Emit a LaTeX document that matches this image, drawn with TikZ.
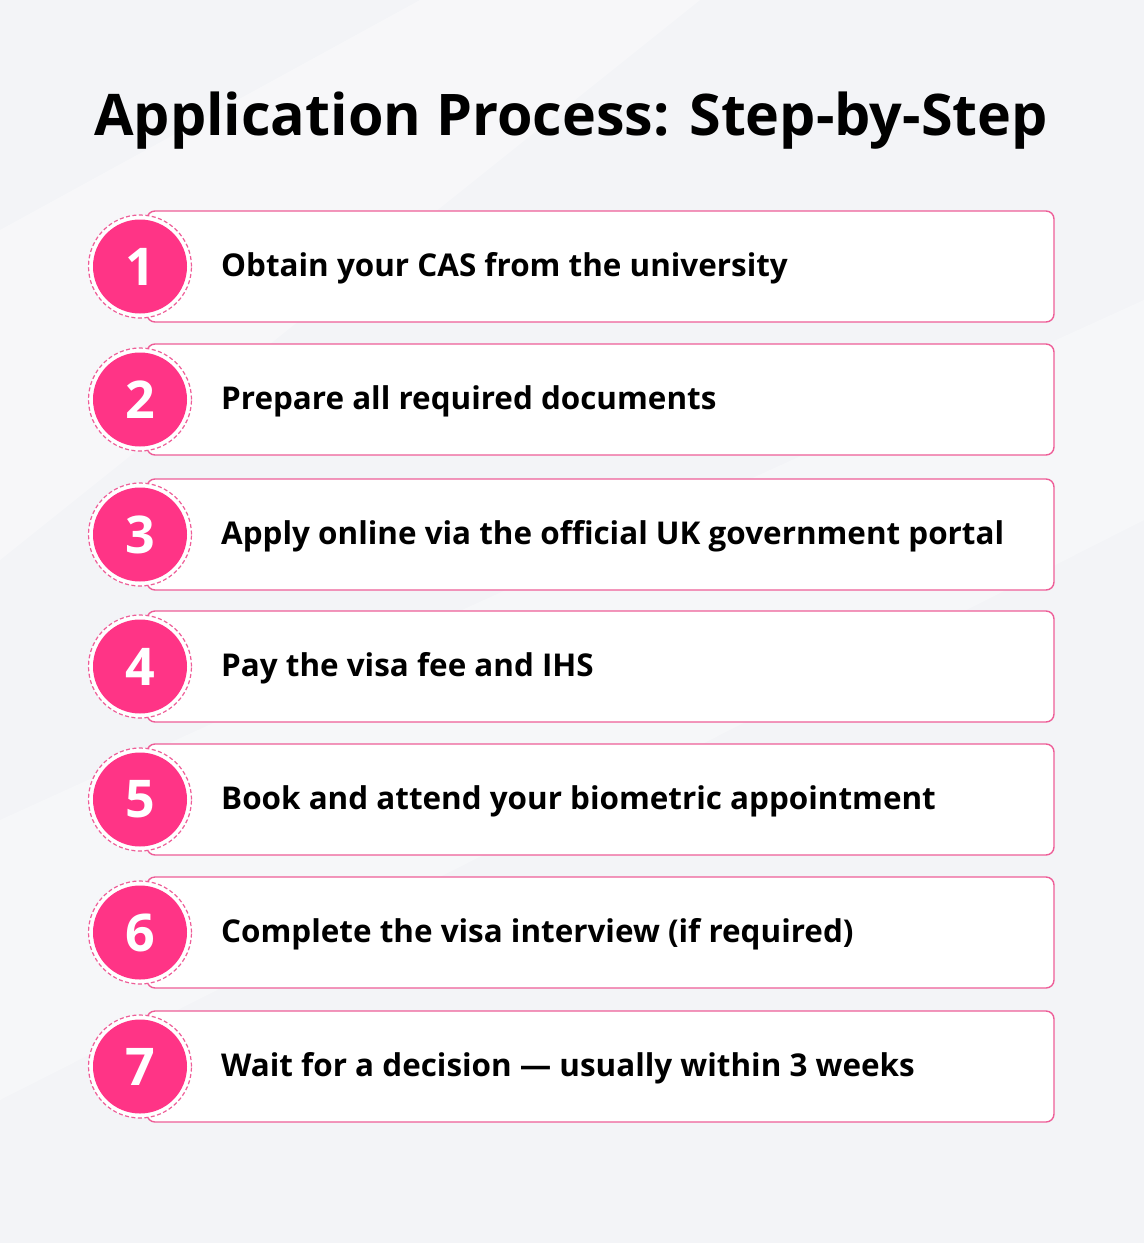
\documentclass[tikz,border=0pt]{standalone}
\usepackage{fontspec}
\setmainfont{Open Sans}
\definecolor{bg}{HTML}{F3F4F7}
\definecolor{pinkfill}{HTML}{FF3486}
\definecolor{pinkline}{HTML}{EE5E98}
\begin{document}
\begin{tikzpicture}[x=1pt,y=-1pt,
  stepbox/.style={draw=pinkline, line width=1.4pt, fill=white, rounded corners=8pt},
  numdot/.style={circle, fill=pinkfill, minimum size=94pt, inner sep=0pt, text=white, font=\fontsize{52}{52}\selectfont\bfseries},
  ring/.style={circle, draw=pinkline, dash pattern=on 4pt off 2.5pt, line width=1.2pt, fill=white, minimum size=103pt, inner sep=0pt},
  steptext/.style={anchor=west, font=\fontsize{31.4}{36}\selectfont\bfseries, text=black, inner sep=0pt}
]
\fill[bg] (0,0) rectangle (1144,1243);
\fill[white, opacity=0.35] (0,230) -- (420,0) -- (700,0) -- (0,560) -- cycle;
\fill[white, opacity=0.3] (0,820) -- (1144,300) -- (1144,520) -- (0,1100) -- cycle;
\useasboundingbox (0,0) rectangle (1144,1243);
\node[font=\fontsize{57.4}{66}\selectfont\bfseries, text=black] (title) at (571,121) {Application Process: Step-by-Step};
\foreach \i/\top/\txt in {1/211/Obtain your CAS from the university,
  2/344/Prepare all required documents,
  3/479/Apply online via the official UK government portal,
  4/611/Pay the visa fee and IHS,
  5/744/Book and attend your biometric appointment,
  6/877/Complete the visa interview (if required),
  7/1011/Wait for a decision — usually within 3 weeks}{
  \draw[stepbox] (147,\top) rectangle ++(907,111);
  \node[ring] (ring\i) at (140,\top+55.5) {};
  \node[numdot] (num\i) at (140,\top+55.5) {\i};
  \node[steptext] (txt\i) at (221,\top+57) {\txt};
}
\end{tikzpicture}
\end{document}
